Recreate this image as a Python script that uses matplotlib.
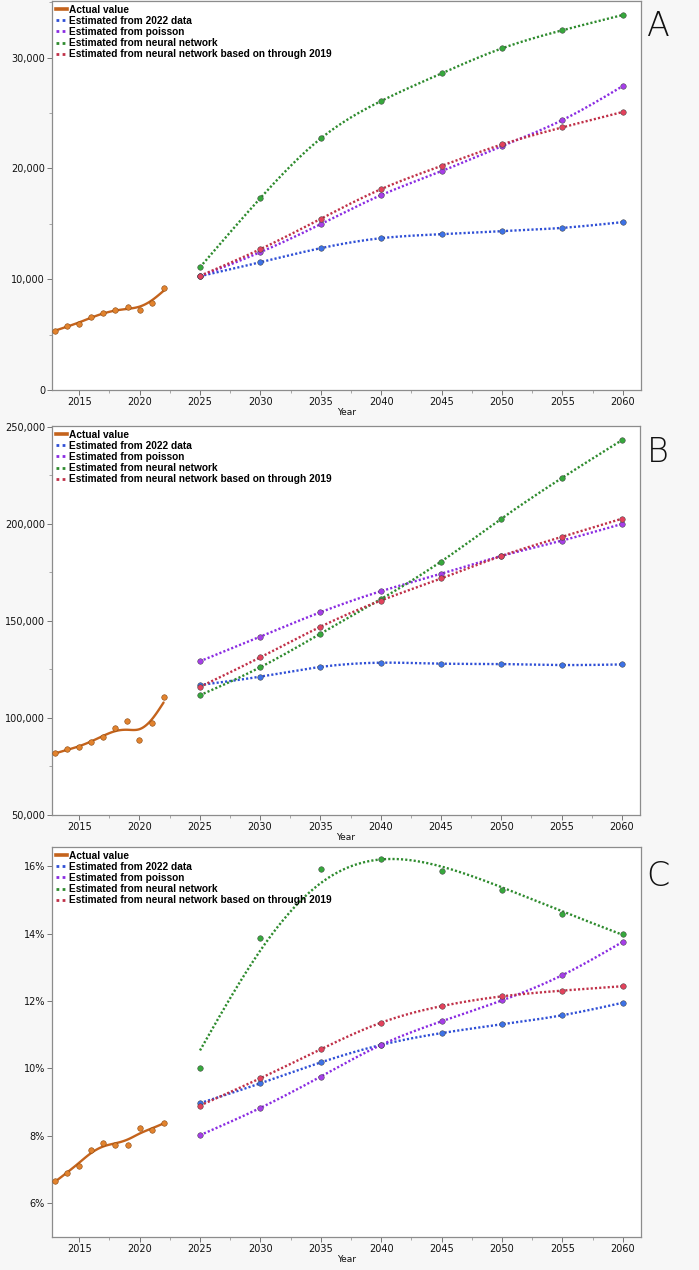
import numpy as np
import matplotlib
matplotlib.use("Agg")
import matplotlib.pyplot as plt
from matplotlib.ticker import FuncFormatter, MultipleLocator
from matplotlib.lines import Line2D

# ---------------- data ----------------
actual_years = [2013, 2014, 2015, 2016, 2017, 2018, 2019, 2020, 2021, 2022]
est_years = [2025, 2030, 2035, 2040, 2045, 2050, 2055, 2060]
xtick_years = [2015, 2020, 2025, 2030, 2035, 2040, 2045, 2050, 2055, 2060]

series_labels = ["Actual value", "Estimated from 2022 data", "Estimated from poisson",
                 "Estimated from neural network",
                 "Estimated from neural network based on through 2019"]

# Panel A
A_actual = [5360, 5750, 5990, 6560, 6950, 7250, 7500, 7230, 7890, 9190]
A_2022 = [10270, 11530, 12800, 13700, 14060, 14330, 14630, 15150]
A_poisson = [10270, 12440, 14970, 17590, 19750, 22010, 24360, 27430]
A_nn = [11080, 17320, 22700, 26080, 28570, 30830, 32460, 33840]
A_nn2019 = [10300, 12710, 15450, 18130, 20230, 22160, 23700, 25090]

# Panel B
B_actual = [81700, 84100, 84800, 87700, 90100, 94700, 98200, 88700, 97300, 110700]
B_2022 = [117000, 121300, 126300, 128500, 128000, 127800, 127300, 127600]
B_poisson = [129200, 141900, 154500, 165300, 174300, 183500, 191400, 200000]
B_nn = [111700, 126100, 143400, 161200, 180600, 202700, 223600, 243200]
B_nn2019 = [116000, 131200, 147000, 160500, 171900, 183500, 193300, 202700]

# Panel C (percent)
C_actual = [6.65, 6.91, 7.11, 7.58, 7.78, 7.74, 7.73, 8.23, 8.16, 8.38]
C_2022 = [8.97, 9.56, 10.18, 10.70, 11.05, 11.31, 11.58, 11.95]
C_poisson = [8.02, 8.83, 9.76, 10.70, 11.40, 12.02, 12.77, 13.76]
C_nn = [10.01, 13.86, 15.92, 16.22, 15.86, 15.28, 14.59, 13.98]
C_nn2019 = [8.90, 9.71, 10.57, 11.36, 11.85, 12.14, 12.31, 12.44]

# ---------------- style ----------------
c_actual_line = "#c4631c"
c_actual_mark = "#e2832e"
line_cols = ["#2f4fd6", "#8a2be2", "#2e8b2e", "#c03048"]
mark_cols = ["#3d72e6", "#a63ee8", "#36a83c", "#e3425c"]
BG = "#f7f7f7"


def natural_spline(x, y, xs):
    x = np.asarray(x, float); y = np.asarray(y, float)
    n = len(x)
    h = np.diff(x)
    A = np.zeros((n, n)); r = np.zeros(n)
    A[0, 0] = 1; A[-1, -1] = 1
    for i in range(1, n - 1):
        A[i, i - 1] = h[i - 1]
        A[i, i] = 2 * (h[i - 1] + h[i])
        A[i, i + 1] = h[i]
        r[i] = 3 * ((y[i + 1] - y[i]) / h[i] - (y[i] - y[i - 1]) / h[i - 1])
    c = np.linalg.solve(A, r)
    b = np.zeros(n - 1); d = np.zeros(n - 1)
    for i in range(n - 1):
        b[i] = (y[i + 1] - y[i]) / h[i] - h[i] * (2 * c[i] + c[i + 1]) / 3
        d[i] = (c[i + 1] - c[i]) / (3 * h[i])
    idx = np.clip(np.searchsorted(x, xs) - 1, 0, n - 2)
    dx = xs - x[idx]
    return y[idx] + b[idx] * dx + c[idx] * dx ** 2 + d[idx] * dx ** 3


def smoothing_spline(x, y, lam, step=0.1):
    """Penalised (Whittaker-type) smoother: min sum(y-f)^2 + lam*int f''^2."""
    x = np.asarray(x, float); y = np.asarray(y, float)
    n = int(round((x[-1] - x[0]) / step)) + 1
    xs = np.linspace(x[0], x[-1], n)
    idx = np.round((x - x[0]) / step).astype(int)
    Wm = np.zeros((len(x), n)); Wm[np.arange(len(x)), idx] = 1
    D = np.diff(np.eye(n), 2, axis=0)
    M = Wm.T @ Wm + lam / step ** 3 * (D.T @ D)
    f = np.linalg.solve(M, Wm.T @ y)
    return xs, f


plt.rcParams["font.family"] = ["DejaVu Sans"]

fig = plt.figure(figsize=(6.99, 12.70), dpi=100, facecolor=BG)

W, H = 699.0, 1270.0
boxes = [(52, 641, 1, 390), (52, 640, 426, 815), (52, 641, 847, 1237)]
panels = [
    ("A", A_actual, [A_2022, A_poisson, A_nn, A_nn2019], (0, 35100)),
    ("B", B_actual, [B_2022, B_poisson, B_nn, B_nn2019], (50000, 250500)),
    ("C", C_actual, [C_2022, C_poisson, C_nn, C_nn2019], (5.0, 16.57)),
]

xe = np.linspace(est_years[0], est_years[-1], 351)

for (letter, act, ests, ylim), (l, r, t, b) in zip(panels, boxes):
    ax = fig.add_axes([l / W, 1 - b / H, (r - l) / W, (b - t) / H])
    ax.set_facecolor("white")
    # actual values: smoothed curve + points
    xs_a, fa = smoothing_spline(actual_years, act, 0.6)
    ax.plot(xs_a, fa, color=c_actual_line, lw=1.7, solid_capstyle="round", zorder=3)
    ax.plot(actual_years, act, "o", color=c_actual_mark, mec="#8a4a14", mew=0.4,
            ms=4.0, zorder=4)
    for i, (vals, lc, mc) in enumerate(zip(ests, line_cols, mark_cols)):
        if letter == "C" and i == 2:
            xs_e, ys = smoothing_spline(est_years, vals, 60.0)
        else:
            xs_e, ys = xe, natural_spline(est_years, vals, xe)
        ax.plot(xs_e, ys, color=lc, lw=1.7, linestyle=(0, (0.9, 0.9)), zorder=3)
        ax.plot(est_years, vals, "o", color=mc, mec="#404040", mew=0.35, ms=4.0, zorder=4)

    ax.set_xlim(2012.75, 2061.5)
    ax.set_ylim(*ylim)
    ax.set_xticks(xtick_years)
    ax.xaxis.set_minor_locator(MultipleLocator(2.5))
    if letter == "A":
        ax.yaxis.set_major_locator(MultipleLocator(10000))
        ax.yaxis.set_minor_locator(MultipleLocator(5000))
        ax.yaxis.set_major_formatter(FuncFormatter(lambda v, p: f"{v:,.0f}"))
    elif letter == "B":
        ax.yaxis.set_major_locator(MultipleLocator(50000))
        ax.yaxis.set_minor_locator(MultipleLocator(25000))
        ax.yaxis.set_major_formatter(FuncFormatter(lambda v, p: f"{v:,.0f}"))
    else:
        ax.set_yticks([6, 8, 10, 12, 14, 16])
        ax.yaxis.set_major_formatter(FuncFormatter(lambda v, p: f"{v:.0f}%"))

    for s in ax.spines.values():
        s.set_color("#8c8c8c")
        s.set_linewidth(0.9)
    ax.tick_params(which="major", length=3.5, width=0.7, color="#777777",
                   labelsize=7, pad=1.5, labelcolor="#111111")
    ax.tick_params(which="minor", length=2, width=0.6, color="#999999")
    ax.set_xlabel("Year", fontsize=6.5, labelpad=0.5, color="#111111")

    # legend
    handles = [Line2D([], [], color=c_actual_line, lw=2.6)]
    for lc in line_cols:
        handles.append(Line2D([], [], color=lc, lw=2.0, linestyle=(0, (1, 1.2))))
    ax.legend(handles, series_labels, loc="upper left", frameon=False,
              prop={"family": "Liberation Sans", "size": 7.3, "weight": "bold"},
              handlelength=1.15, handletextpad=0.2, labelspacing=0.12,
              borderaxespad=0.2, borderpad=0.15)

    # panel letter
    cy = {"A": 27, "B": 452, "C": 876}[letter]
    fig.text(658 / W, 1 - cy / H, letter, fontsize=24, ha="center", va="center",
             color="#111111", fontweight="light")

fig.savefig("out.png", dpi=100, facecolor=BG)
